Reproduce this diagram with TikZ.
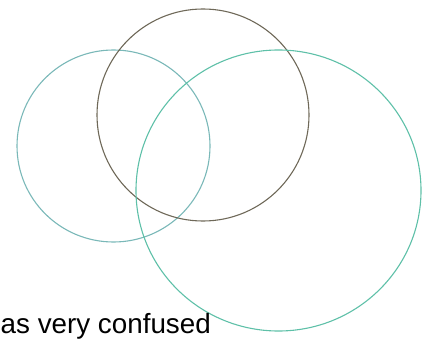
\documentclass[tikz,border=0pt]{standalone}
\usepackage{fontspec}
\setmainfont{Liberation Sans}
\definecolor{leftc}{HTML}{7AB8B8}
\definecolor{midc}{HTML}{6E6858}
\definecolor{rightc}{HTML}{5EC0A8}
\begin{document}
\begin{tikzpicture}[x=1pt,y=-1pt,
  ring/.style={draw, line width=1.1pt}]
\useasboundingbox (0,0) rectangle (425,339);
\draw[ring, leftc] (113.5,146) circle[x radius=96.5, y radius=96];
\draw[ring, midc] (203,115) circle[radius=106];
\draw[ring, rightc] (278.5,190.5) circle[x radius=142.5, y radius=140.5];
\node[anchor=base west, inner sep=0pt, font=\fontsize{27.8}{32}\selectfont] (t) at (0.5,333) {as very confused};
\end{tikzpicture}
\end{document}
